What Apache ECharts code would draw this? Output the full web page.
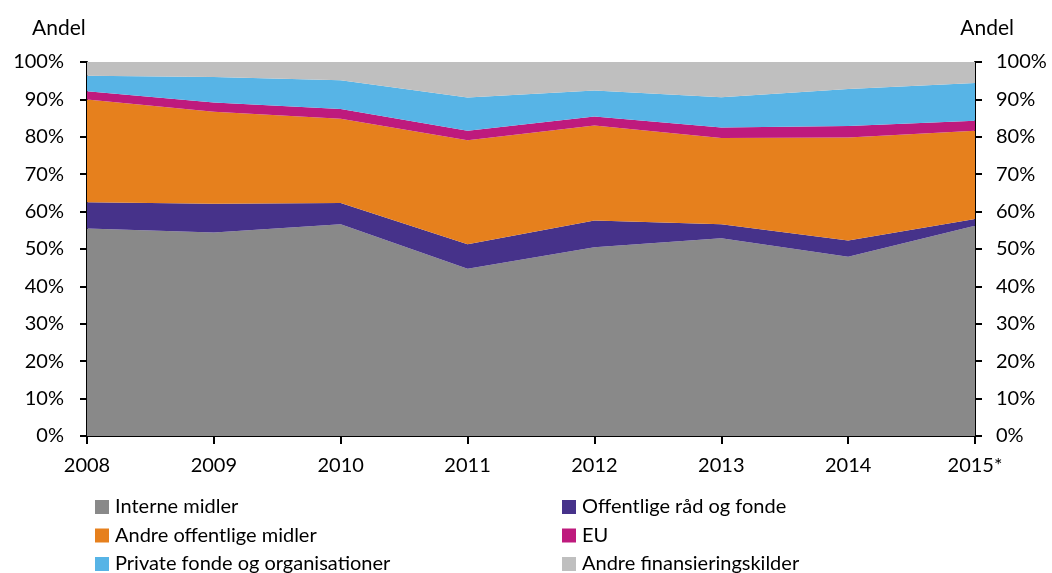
<!DOCTYPE html>
<html>
<head>
<meta charset="utf-8">
<script src="https://cdn.jsdelivr.net/npm/echarts@6/dist/echarts.min.js"></script>
<style>
  html, body { margin: 0; padding: 0; background: #fff; }
  #chart { width: 1052px; height: 573px; }
</style>
</head>
<body>
<div id="chart"></div>
<script>
// årstal og andele (%)
var years = ['2008', '2009', '2010', '2011', '2012', '2013', '2014', '2015*'];
var interneMidler = [55.5, 54.4, 56.6, 44.7, 50.5, 52.9, 47.9, 56.2];
var offentligeRaad = [7.0, 7.7, 5.7, 6.6, 7.1, 3.7, 4.4, 1.8];
var andreOffentlige = [27.5, 24.6, 22.5, 27.8, 25.4, 23.1, 27.5, 23.6];
var eu = [2.2, 2.5, 2.6, 2.5, 2.4, 2.8, 3.1, 2.7];
var privateFonde = [4.1, 6.8, 7.7, 8.9, 7.0, 8.1, 9.9, 10.1];
var andreFinans = [3.7, 4.0, 4.9, 9.5, 7.6, 9.4, 7.2, 5.6];

var legendLeft = ['Interne midler', 'Andre offentlige midler', 'Private fonde og organisationer'];
var legendRight = ['Offentlige råd og fonde', 'EU', 'Andre finansieringskilder'];

var axisFont = 'Lato, "Open Sans", sans-serif';

function areaSeries(name, data, color) {
    return {
        name: name,
        type: 'line',
        stack: 'andel',
        data: data,
        symbol: 'none',
        lineStyle: { width: 0 },
        areaStyle: { color: color, opacity: 1 },
        itemStyle: { color: color }
    };
}

function legendCol(left, data) {
    return {
        orient: 'vertical', left: left, top: 492, height: 100, itemGap: 8.5,
        itemWidth: 14, itemHeight: 14, icon: 'rect',
        textStyle: { fontFamily: axisFont, fontSize: 20, lineHeight: 20, color: '#000', padding: [0, 0, 0, 1] },
        data: data
    };
}

var myChart = echarts.init(document.getElementById('chart'));

var option = {
    animation: false,
    title: [
        { text: 'Andel', left: 27, top: 13, textStyle: { fontFamily: axisFont, fontSize: 21, fontWeight: 'normal', color: '#000' } },
        { text: 'Andel', right: 33, top: 13, textStyle: { fontFamily: axisFont, fontSize: 21, fontWeight: 'normal', color: '#000' } }
    ],
    grid: { left: 87, right: 77, top: 62, bottom: 137 },
    legend: [legendCol(90, legendLeft), legendCol(557, legendRight)],
    xAxis: {
        type: 'category',
        data: years,
        boundaryGap: false,
        axisLine: { lineStyle: { color: '#000', width: 2 } },
        axisTick: { show: true, length: 8, lineStyle: { color: '#000', width: 2 } },
        axisLabel: { fontFamily: axisFont, fontSize: 20, color: '#000', margin: 20 }
    },
    yAxis: [
        {
            type: 'value', min: 0, max: 100, interval: 10, position: 'left',
            axisLine: { show: true, lineStyle: { color: '#000', width: 2 } },
            axisTick: { show: true, length: 7, lineStyle: { color: '#000', width: 2 } },
            splitLine: { show: false },
            axisLabel: { formatter: '{value}%', fontFamily: axisFont, fontSize: 20, color: '#000', margin: 23 }
        },
        {
            type: 'value', min: 0, max: 100, interval: 10, position: 'right',
            axisLine: { show: true, lineStyle: { color: '#000', width: 2 } },
            axisTick: { show: true, length: 7, lineStyle: { color: '#000', width: 2 } },
            splitLine: { show: false },
            axisLabel: { formatter: '{value}%', fontFamily: axisFont, fontSize: 20, color: '#000', margin: 21 }
        }
    ],
    series: [
        areaSeries('Interne midler', interneMidler, '#898989'),
        areaSeries('Offentlige råd og fonde', offentligeRaad, '#46328A'),
        areaSeries('Andre offentlige midler', andreOffentlige, '#E6801D'),
        areaSeries('EU', eu, '#BE1A7D'),
        areaSeries('Private fonde og organisationer', privateFonde, '#57B4E6'),
        areaSeries('Andre finansieringskilder', andreFinans, '#BFBFBF')
    ]
};

myChart.setOption(option);
</script>
</body>
</html>
